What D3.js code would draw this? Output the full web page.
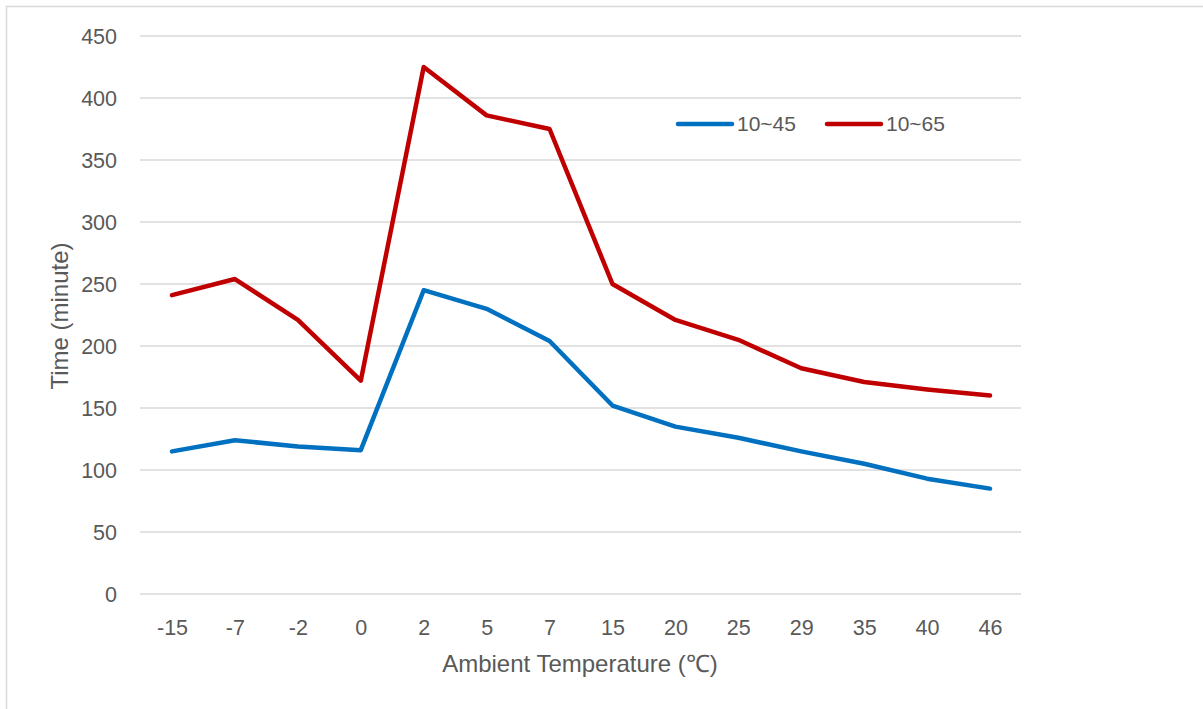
<!DOCTYPE html>
<html><head><meta charset="utf-8">
<script src="https://cdn.jsdelivr.net/npm/d3@7"></script>
<style>body{margin:0;background:#fff}svg{display:block}text{font-family:"Liberation Sans",Arial,sans-serif;fill:#595959}</style>
</head><body>
<script>
const categories = ["-15","-7","-2","0","2","5","7","15","20","25","29","35","40","46"];
const series45 = [115,124,119,116,245,230,204,152,135,126,115,105,93,85];
const series65 = [241,254,221,172,425,386,375,250,221,205,182,171,165,160];
const seriesNames = ["10~45","10~65"];
const seriesColors = ["#0070c0","#c00000"];
const yTicks = [0,50,100,150,200,250,300,350,400,450];

const W=1203,H=709;
const svg=d3.select("body").append("svg").attr("width",W).attr("height",H);
svg.append("rect").attr("x",6.5).attr("y",6.5).attr("width",W+10).attr("height",H+10)
  .attr("fill","none").attr("stroke","#d9d9d9").attr("stroke-width",1.5);

const x=d3.scalePoint().domain(categories).range([172,990]);
const y=d3.scaleLinear().domain([0,450]).range([594,36]);

svg.append("g").selectAll("line").data(yTicks).join("line")
  .attr("x1",140).attr("x2",1021).attr("y1",d=>y(d)).attr("y2",d=>y(d))
  .attr("stroke","#d9d9d9").attr("stroke-width",1.5);

const yAxis=d3.axisLeft(y).tickValues(yTicks).tickSize(0).tickPadding(0);
const gy=svg.append("g").attr("transform","translate(117,0)").call(yAxis);
gy.select(".domain").remove();
gy.selectAll("text").attr("font-size",21.5).attr("dy","0.35em").style("fill","#595959");

const xAxis=d3.axisBottom(x).tickSize(0).tickPadding(0);
const gx=svg.append("g").attr("transform","translate(0,627)").call(xAxis);
gx.select(".domain").remove();
gx.selectAll("text").attr("font-size",21.5).attr("dy","0.35em").attr("y",0).style("fill","#595959");

svg.append("text").attr("x",580).attr("y",664).attr("text-anchor","middle").attr("dy","0.35em")
  .attr("font-size",24).text("Ambient Temperature (℃)");
svg.append("text").attr("transform","translate(60,316) rotate(-90)").attr("text-anchor","middle").attr("dy","0.35em")
  .attr("font-size",24).text("Time (minute)");

const line=d3.line().x((d,i)=>x(categories[i])).y(d=>y(d));
[series45,series65].forEach((s,k)=>{
  svg.append("path").datum(s).attr("d",line).attr("fill","none")
    .attr("stroke",seriesColors[k]).attr("stroke-width",4.5)
    .attr("stroke-linejoin","round").attr("stroke-linecap","round");
});

const legX=[678,827];
seriesNames.forEach((n,k)=>{
  const g=svg.append("g").attr("transform",`translate(${legX[k]},124)`);
  g.append("line").attr("x1",0).attr("x2",54).attr("stroke",seriesColors[k])
    .attr("stroke-width",4.5).attr("stroke-linecap","round");
  g.append("text").attr("x",59).attr("dy","0.35em").attr("font-size",21).text(n);
});
</script>
</body></html>
